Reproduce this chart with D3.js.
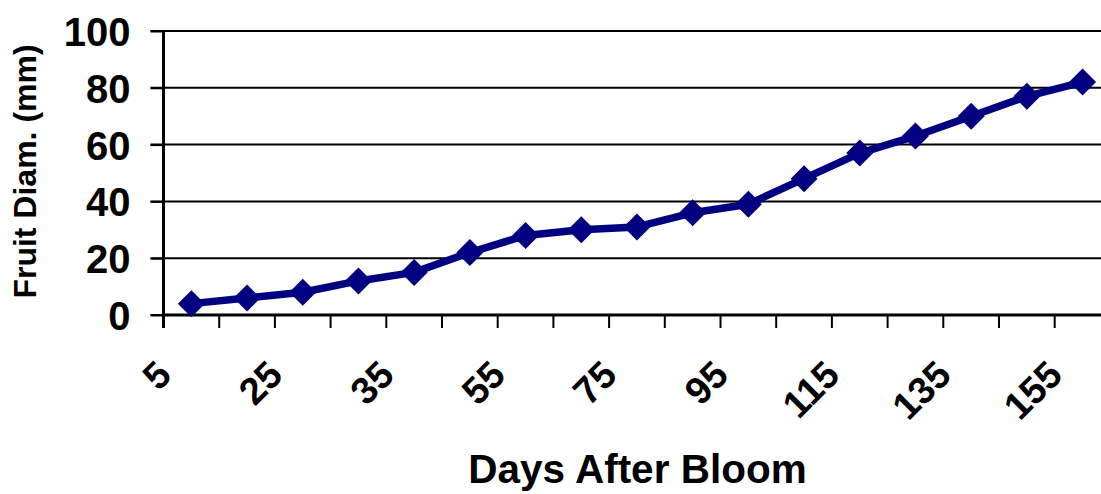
<!DOCTYPE html>
<html>
<head>
<meta charset="utf-8">
<script src="https://cdn.jsdelivr.net/npm/d3@7"></script>
<style>
  html, body { margin: 0; padding: 0; background: #fff; }
  svg { display: block; font-family: "Liberation Sans", Arial, sans-serif; font-weight: bold; }
</style>
</head>
<body>
<svg id="chart" width="1101" height="494"></svg>
<script>
// Days after bloom for each sample (every other one is labelled on the axis)
const days = ["5", "15", "25", "30", "35", "45", "55", "65", "75", "85", "95", "105", "115", "125", "135", "145", "155"];
// Mean fruit diameter (mm) at each sample date
const diameter = [4, 6, 8, 12, 15, 22, 28, 30, 31, 36, 39, 48, 57, 63, 70, 77, 82];
// Y-axis ticks
const yTicks = [0, 20, 40, 60, 80, 100];

const svg = d3.select("#chart");

const plotLeft = 163.5, plotTop = 31, plotBottom = 315;
const band = 55.7;

const x = d3.scaleBand()
  .domain(days)
  .range([plotLeft, plotLeft + band * days.length])
  .paddingInner(0).paddingOuter(0);

const y = d3.scaleLinear().domain([0, 100]).range([plotBottom, plotTop]);

// Horizontal gridlines (extend left through the tick marks)
svg.append("g")
  .selectAll("line")
  .data(yTicks)
  .join("line")
  .attr("x1", plotLeft - 13)
  .attr("x2", x.range()[1])
  .attr("y1", d => y(d))
  .attr("y2", d => y(d))
  .attr("stroke", "#000")
  .attr("stroke-width", 2);

// Y axis
const yAxis = svg.append("g")
  .attr("transform", `translate(${plotLeft},0)`)
  .call(d3.axisLeft(y).tickValues(yTicks).tickSize(13).tickPadding(20).tickFormat(d3.format("d")));
yAxis.select(".domain").attr("stroke", "#000").attr("stroke-width", 3)
  .attr("d", `M0,${plotBottom + 13}V${plotTop}`);
yAxis.selectAll(".tick line").attr("stroke", "#000").attr("stroke-width", 2);
yAxis.selectAll(".tick text")
  .attr("fill", "#000")
  .style("font-size", "40px")
  .style("font-weight", "bold")
  .style("font-family", "'Liberation Sans', Arial, sans-serif")
  .attr("dy", "0.36em");

// X axis: ticks at category boundaries
const boundaries = d3.range(days.length + 1).map(i => x.range()[0] + i * x.bandwidth());
svg.append("line")
  .attr("x1", plotLeft).attr("x2", x.range()[1])
  .attr("y1", plotBottom).attr("y2", plotBottom)
  .attr("stroke", "#000").attr("stroke-width", 3);
svg.append("g")
  .selectAll("line")
  .data(boundaries)
  .join("line")
  .attr("x1", d => d).attr("x2", d => d)
  .attr("y1", plotBottom).attr("y2", plotBottom + 13)
  .attr("stroke", "#000").attr("stroke-width", 2);

// Rotated category labels, every other day
svg.append("g")
  .selectAll("text")
  .data(days.filter((d, i) => i % 2 === 0))
  .join("text")
  .attr("transform", d => `translate(${x(d) + x.bandwidth() / 2 - 18},${plotBottom + 62}) rotate(-45)`)
  .attr("text-anchor", "end")
  .style("font-size", "38px")
  .attr("fill", "#000")
  .text(d => d);

// Series line
const line = d3.line()
  .x((d, i) => x(days[i]) + x.bandwidth() / 2)
  .y(d => y(d));

svg.append("path")
  .datum(diameter)
  .attr("d", line)
  .attr("fill", "none")
  .attr("stroke", "#000080")
  .attr("stroke-width", 7.5)
  .attr("stroke-linejoin", "round");

// Diamond markers
const r = 13.5;
svg.append("g")
  .selectAll("path")
  .data(diameter)
  .join("path")
  .attr("transform", (d, i) => `translate(${x(days[i]) + x.bandwidth() / 2},${y(d)})`)
  .attr("d", `M0,${-r}L${r},0L0,${r}L${-r},0Z`)
  .attr("fill", "#000080");

// Axis titles
svg.append("text")
  .attr("transform", "translate(36,171.5) rotate(-90)")
  .attr("text-anchor", "middle")
  .style("font-size", "32px")
  .attr("fill", "#000")
  .text("Fruit Diam. (mm)");

svg.append("text")
  .attr("x", 637.5)
  .attr("y", 483)
  .attr("text-anchor", "middle")
  .style("font-size", "40.5px")
  .attr("fill", "#000")
  .text("Days After Bloom");
</script>
</body>
</html>
